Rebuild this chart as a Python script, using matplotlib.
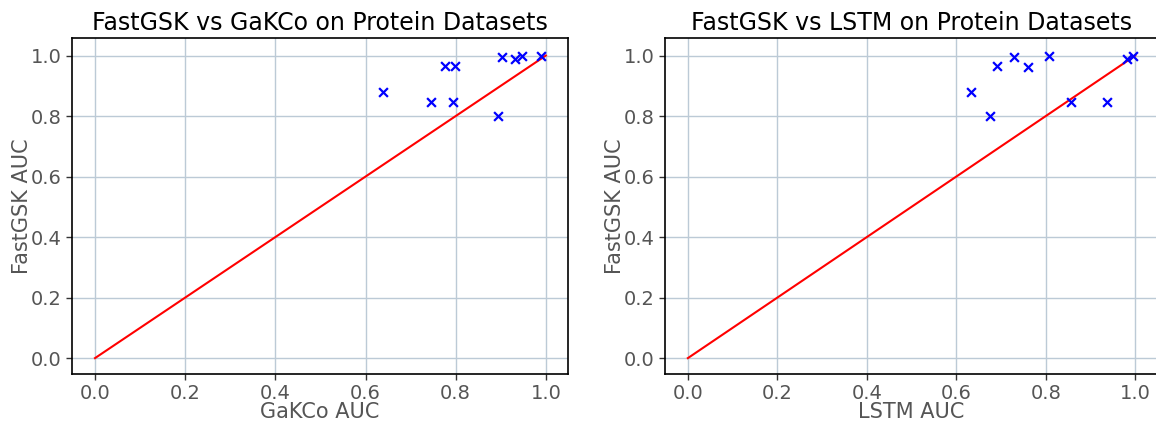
import matplotlib
matplotlib.use('Agg')
import matplotlib.pyplot as plt

# AUC values
fastgsk_gakco = [0.879, 0.846, 0.967, 0.964, 0.848, 0.995, 0.799, 0.988, 1.0, 1.0]
gakco_auc = [0.638, 0.746, 0.777, 0.798, 0.793, 0.902, 0.894, 0.931, 0.948, 0.989]

fastgsk_lstm = [0.879, 0.799, 0.967, 0.995, 0.962, 1.0, 0.848, 0.846, 0.988, 1.0]
lstm_auc = [0.632, 0.676, 0.692, 0.728, 0.760, 0.807, 0.856, 0.938, 0.981, 0.996]

diag = [0.0, 1.0]
ticks = [0.0, 0.2, 0.4, 0.6, 0.8, 1.0]

fig = plt.figure(figsize=(11.56, 4.21), dpi=100)
ax1 = fig.add_axes([0.0623, 0.112, 0.429, 0.797])
ax2 = fig.add_axes([0.5753, 0.112, 0.4257, 0.797])

paneles = [
    (ax1, gakco_auc, fastgsk_gakco, 'GaKCo AUC', 'FastGSK vs GaKCo on Protein Datasets'),
    (ax2, lstm_auc, fastgsk_lstm, 'LSTM AUC', 'FastGSK vs LSTM on Protein Datasets'),
]

for ax, xs, ys, xlabel, titulo in paneles:
    ax.grid(True, color='#bccad6', linewidth=1.0)
    ax.set_axisbelow(True)
    ax.plot(diag, diag, color='red', linewidth=1.5)
    ax.scatter(xs, ys, marker='x', color='blue', s=40, linewidths=1.6, zorder=3)
    ax.set_xlim(-0.051, 1.049)
    ax.set_ylim(-0.052, 1.057)
    ax.set_xticks(ticks)
    ax.set_yticks(ticks)
    ax.tick_params(labelsize=14, colors='#555555', length=4, width=1, color='#333333')
    ax.set_xlabel(xlabel, fontsize=15, color='#555555', labelpad=-1)
    ax.set_ylabel('FastGSK AUC', fontsize=15, color='#555555', labelpad=-1)
    ax.set_title(titulo, fontsize=17, color='black')
    for s in ax.spines.values():
        s.set_color('black')
        s.set_linewidth(1.2)

fig.savefig('out.png', dpi=100)
